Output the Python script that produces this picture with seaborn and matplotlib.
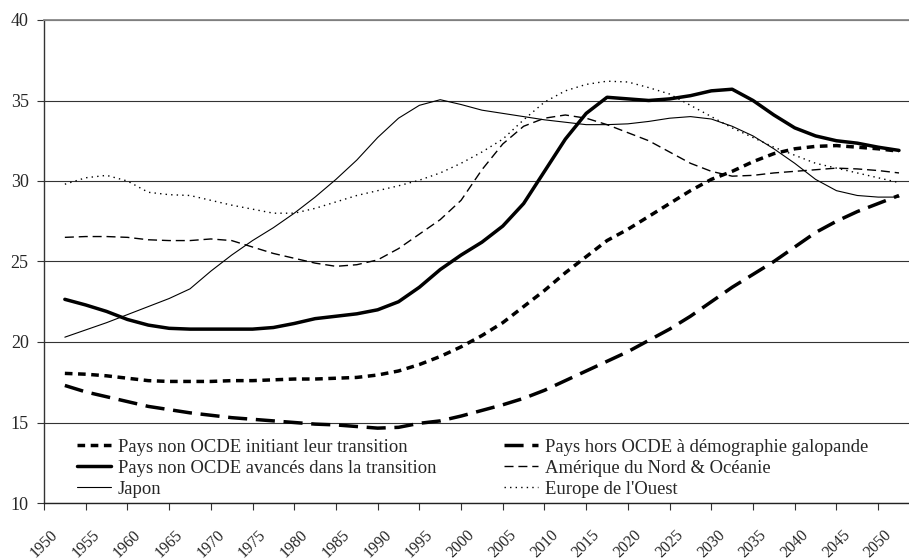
import numpy as np
import pandas as pd
import matplotlib
matplotlib.use("Agg")
import matplotlib.pyplot as plt
import seaborn as sns

# années (milieu des périodes quinquennales, pas de 2,5 ans)
years = [1952.5 + 2.5 * i for i in range(41)]

initiant = [18.05, 18.0, 17.9, 17.75, 17.6, 17.55, 17.55, 17.55, 17.6, 17.6,
            17.65, 17.7, 17.7, 17.75, 17.8, 17.95, 18.2, 18.6, 19.1, 19.7,
            20.4, 21.2, 22.2, 23.2, 24.3, 25.3, 26.3, 27.0, 27.8, 28.6,
            29.4, 30.1, 30.6, 31.2, 31.7, 32.0, 32.15, 32.2, 32.1, 32.0, 31.85]
galopande = [17.3, 16.9, 16.6, 16.3, 16.0, 15.8, 15.6, 15.45, 15.3, 15.2,
             15.1, 15.0, 14.9, 14.85, 14.75, 14.65, 14.7, 14.95, 15.1, 15.4,
             15.75, 16.1, 16.5, 17.0, 17.6, 18.2, 18.8, 19.4, 20.1, 20.8,
             21.6, 22.5, 23.4, 24.2, 25.0, 25.9, 26.8, 27.5, 28.1, 28.6, 29.1]
avances = [22.65, 22.3, 21.9, 21.4, 21.05, 20.85, 20.8, 20.8, 20.8, 20.8,
           20.9, 21.15, 21.45, 21.6, 21.75, 22.0, 22.5, 23.4, 24.5, 25.4,
           26.2, 27.2, 28.6, 30.6, 32.6, 34.2, 35.2, 35.1, 35.0, 35.1,
           35.3, 35.6, 35.7, 35.0, 34.1, 33.3, 32.8, 32.5, 32.35, 32.1, 31.9]
amerique = [26.5, 26.55, 26.55, 26.5, 26.35, 26.3, 26.3, 26.4, 26.3, 25.9,
            25.5, 25.2, 24.9, 24.7, 24.8, 25.1, 25.8, 26.7, 27.6, 28.8,
            30.7, 32.3, 33.4, 33.9, 34.1, 33.9, 33.5, 33.0, 32.5, 31.8,
            31.1, 30.6, 30.3, 30.35, 30.5, 30.6, 30.7, 30.8, 30.75, 30.65, 30.5]
japon = [20.3, 20.75, 21.2, 21.7, 22.2, 22.7, 23.3, 24.4, 25.4, 26.3,
         27.1, 28.0, 29.0, 30.1, 31.3, 32.7, 33.9, 34.7, 35.05, 34.75,
         34.4, 34.2, 34.0, 33.8, 33.65, 33.5, 33.5, 33.55, 33.7, 33.9,
         34.0, 33.85, 33.4, 32.8, 32.0, 31.1, 30.1, 29.4, 29.1, 29.0, 29.0]
europe = [29.8, 30.2, 30.35, 30.0, 29.3, 29.15, 29.1, 28.8, 28.5, 28.25,
          28.0, 28.0, 28.3, 28.7, 29.1, 29.4, 29.7, 30.05, 30.5, 31.1,
          31.8, 32.6, 33.8, 34.9, 35.6, 36.0, 36.2, 36.15, 35.8, 35.4,
          34.7, 34.0, 33.3, 32.7, 32.1, 31.6, 31.1, 30.8, 30.5, 30.2, 29.9]

labels = ["Pays non OCDE initiant leur transition",
          "Pays non OCDE avancés dans la transition",
          "Japon",
          "Pays hors OCDE à démographie galopande",
          "Amérique du Nord & Océanie",
          "Europe de l'Ouest"]
series = [initiant, avances, japon, galopande, amerique, europe]

# style de chaque courbe : (épaisseur, motif de tirets)
styles = [(2.5, (0, (2.2, 1.6))),
          (2.5, "-"),
          (0.8, "-"),
          (2.5, (0, (5.5, 2.5))),
          (1.0, (0, (6.5, 3.5))),
          (1.0, (0, (1, 3)))]

sns.set_style("white")
plt.rcParams["font.family"] = ["Liberation Serif", "DejaVu Serif"]

fig = plt.figure(figsize=(9.09, 5.6), dpi=100)
ax = fig.add_axes([44 / 909, 57 / 560, 865 / 909, 483 / 560])

for vals, lab, (lw, ls) in zip(series, labels, styles):
    df = pd.DataFrame({"Année": years, "Valeur": vals})
    sns.lineplot(data=df, x="Année", y="Valeur", ax=ax, color="black",
                 linewidth=lw, linestyle=ls, label=lab)

ax.set_xlim(1950, 2053.7)
ax.set_ylim(10, 40)
ax.set_xticks(range(1950, 2051, 5))
ax.set_yticks(range(10, 41, 5))
ax.set_xlabel("")
ax.set_ylabel("")
ax.yaxis.grid(True, color="#333333", linewidth=0.8)
ax.xaxis.grid(False)

ax.spines["right"].set_visible(False)
ax.spines["top"].set_color("#888888")
ax.spines["top"].set_linewidth(1.3)
ax.spines["left"].set_color("#333333")
ax.spines["bottom"].set_color("#222222")
ax.spines["left"].set_linewidth(1.0)
ax.spines["bottom"].set_linewidth(1.0)

ax.tick_params(axis="both", direction="out", length=5, width=0.8,
               color="#333333", left=True, bottom=True)
ax.tick_params(axis="y", pad=6, labelsize=13)
ax.tick_params(axis="x", pad=12, labelsize=11.5)
plt.setp(ax.get_xticklabels(), rotation=45, ha="center", va="top")

ax.legend(ncol=2, loc="lower left", bbox_to_anchor=(0.03, -0.005),
          frameon=False, fontsize=13.4, handlelength=1.8,
          handletextpad=0.38, columnspacing=3.65, labelspacing=0.22,
          borderaxespad=0.0)

plt.savefig("out.png", dpi=100)
